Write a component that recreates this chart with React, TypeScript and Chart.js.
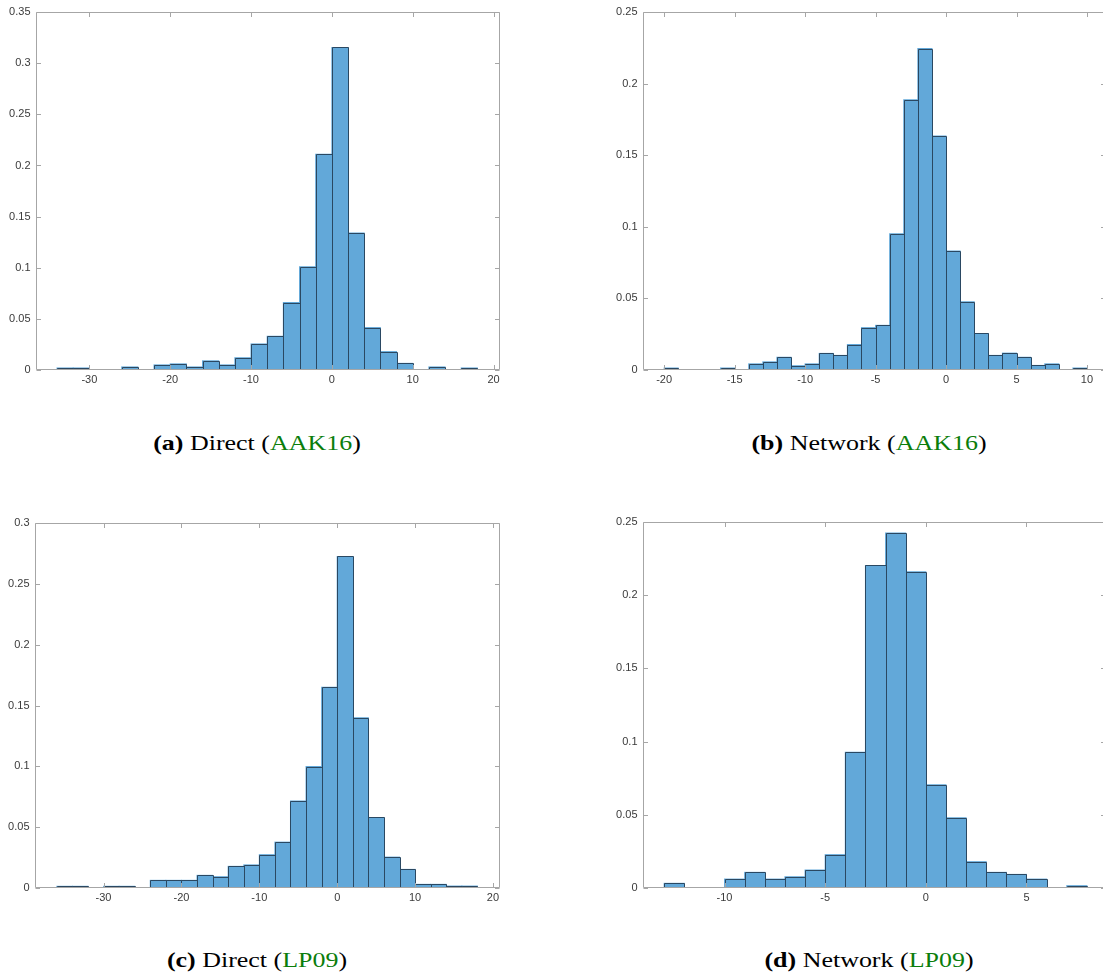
import React, { useEffect, useRef } from "react";
import { Chart, registerables } from "chart.js";

Chart.register(...registerables);

// ---------- Data ----------
// (a) Direct (AAK16)
const aCenters = [-33, -31, -29, -27, -25, -23, -21, -19, -17, -15, -13, -11, -9, -7, -5, -3, -1, 1, 3, 5, 7, 9, 11, 13, 15, 17];
const aValues = [0.002, 0.002, 0, 0, 0.003, 0, 0.005, 0.006, 0.003, 0.009, 0.005, 0.012, 0.0255, 0.033, 0.066, 0.101, 0.211, 0.3155, 0.134, 0.0415, 0.018, 0.0065, 0, 0.003, 0, 0.002];
const aXTicks = [-30, -20, -10, 0, 10, 20];
const aXLabels = ["-30", "-20", "-10", "0", "10", "20"];
const aYTicks = [0, 0.05, 0.1, 0.15, 0.2, 0.25, 0.3, 0.35];
const aYLabels = ["0", "0.05", "0.1", "0.15", "0.2", "0.25", "0.3", "0.35"];

// (b) Network (AAK16)
const bCenters = [-19.5, -18.5, -17.5, -16.5, -15.5, -14.5, -13.5, -12.5, -11.5, -10.5, -9.5, -8.5, -7.5, -6.5, -5.5, -4.5, -3.5, -2.5, -1.5, -0.5, 0.5, 1.5, 2.5, 3.5, 4.5, 5.5, 6.5, 7.5, 8.5, 9.5];
const bValues = [0.0014, 0, 0, 0, 0.0014, 0, 0.0043, 0.0057, 0.0089, 0.003, 0.0043, 0.0116, 0.0102, 0.0178, 0.0296, 0.0312, 0.0952, 0.1888, 0.2245, 0.1635, 0.0831, 0.0476, 0.0255, 0.0102, 0.0118, 0.0089, 0.0032, 0.0043, 0, 0.0014];
const bXTicks = [-20, -15, -10, -5, 0, 5, 10];
const bXLabels = ["-20", "-15", "-10", "-5", "0", "5", "10"];
const bYTicks = [0, 0.05, 0.1, 0.15, 0.2, 0.25];
const bYLabels = ["0", "0.05", "0.1", "0.15", "0.2", "0.25"];

// (c) Direct (LP09)
const cCenters = [-35, -33, -31, -29, -27, -25, -23, -21, -19, -17, -15, -13, -11, -9, -7, -5, -3, -1, 1, 3, 5, 7, 9, 11, 13, 15, 17];
const cValues = [0.0014, 0.0014, 0, 0.0014, 0.0014, 0, 0.0063, 0.0063, 0.0063, 0.0104, 0.0093, 0.0178, 0.019, 0.0274, 0.0377, 0.0716, 0.0998, 0.165, 0.2725, 0.14, 0.058, 0.0254, 0.0153, 0.003, 0.003, 0.0016, 0.0016];
const cXTicks = [-30, -20, -10, 0, 10, 20];
const cXLabels = ["-30", "-20", "-10", "0", "10", "20"];
const cYTicks = [0, 0.05, 0.1, 0.15, 0.2, 0.25, 0.3];
const cYLabels = ["0", "0.05", "0.1", "0.15", "0.2", "0.25", "0.3"];

// (d) Network (LP09)
const dCenters = [-12.5, -11.5, -10.5, -9.5, -8.5, -7.5, -6.5, -5.5, -4.5, -3.5, -2.5, -1.5, -0.5, 0.5, 1.5, 2.5, 3.5, 4.5, 5.5, 6.5, 7.5];
const dValues = [0.0032, 0, 0, 0.0061, 0.0107, 0.0061, 0.0077, 0.0123, 0.0228, 0.0928, 0.2204, 0.2425, 0.216, 0.0705, 0.048, 0.018, 0.0107, 0.0093, 0.0061, 0, 0.0016];
const dXTicks = [-10, -5, 0, 5];
const dXLabels = ["-10", "-5", "0", "5"];
const dYTicks = [0, 0.05, 0.1, 0.15, 0.2, 0.25];
const dYLabels = ["0", "0.05", "0.1", "0.15", "0.2", "0.25"];

// ---------- Styling ----------
const BAR_FILL = "#62a8d9";
const BAR_EDGE = "#2a4862";
const AXIS_COLOR = "#a6a6a6";
const TICK_FONT = { family: '"Liberation Sans", Arial, Helvetica, sans-serif', size: 11 };
const TICK_COLOR = "#3a3a3a";
const TICK_LEN = 4.5;

// Crisp 1px outlines around each histogram bin, using the bar elements' own geometry.
const binEdges = {
  id: "binEdges",
  afterDatasetsDraw(chart: any) {
    const { ctx, chartArea } = chart;
    const meta = chart.getDatasetMeta(0);
    const values = chart.data.datasets[0].data;
    ctx.save();
    ctx.beginPath();
    ctx.rect(chartArea.left, chartArea.top, chartArea.right - chartArea.left, chartArea.bottom - chartArea.top);
    ctx.clip();
    ctx.strokeStyle = BAR_EDGE;
    ctx.lineWidth = 1;
    meta.data.forEach((el: any, i: number) => {
      const v = values[i] && values[i].y;
      if (!v || v <= 0) return;
      const { x, y, base, width } = el.getProps(["x", "y", "base", "width"], true);
      const l = Math.round(x - width / 2) + 0.5;
      const r = Math.round(x + width / 2) + 0.5;
      const t = Math.round(y) + 0.5;
      const b = Math.round(base) + 0.5;
      ctx.beginPath();
      ctx.moveTo(l, b);
      ctx.lineTo(l, t);
      ctx.lineTo(r, t);
      ctx.lineTo(r, b);
      ctx.stroke();
    });
    ctx.restore();
  },
};

const matlabBox = {
  id: "matlabBox",
  afterDatasetsDraw(chart: any) {
    const { ctx, chartArea, scales } = chart;
    const { left, right, top, bottom } = chartArea;
    const x = scales.x;
    const y = scales.y;
    ctx.save();
    ctx.strokeStyle = AXIS_COLOR;
    ctx.lineWidth = 1;
    const L = Math.round(left) + 0.5;
    const R = Math.round(right) - 0.5;
    const T = Math.round(top) + 0.5;
    const B = Math.round(bottom) - 0.5;
    ctx.beginPath();
    ctx.rect(L, T, R - L, B - T);
    ctx.stroke();
    ctx.beginPath();
    x.ticks.forEach((t: any) => {
      const px = Math.round(x.getPixelForValue(t.value)) + 0.5;
      ctx.moveTo(px, B);
      ctx.lineTo(px, B - TICK_LEN);
      ctx.moveTo(px, T);
      ctx.lineTo(px, T + TICK_LEN);
    });
    y.ticks.forEach((t: any) => {
      const py = Math.round(y.getPixelForValue(t.value)) + 0.5;
      ctx.moveTo(L, py);
      ctx.lineTo(L + TICK_LEN, py);
      ctx.moveTo(R, py);
      ctx.lineTo(R - TICK_LEN, py);
    });
    ctx.stroke();
    ctx.restore();
  },
};

type PanelSpec = {
  centers: number[];
  values: number[];
  xTicks: number[];
  xLabels: string[];
  yTicks: number[];
  yLabels: string[];
  xMin: number;
  xMax: number;
  yMax: number;
  padding: { left: number; right: number; top: number; bottom: number };
  yWidth: number;
  xHeight: number;
};

function makeConfig(p: PanelSpec): any {
  return {
    type: "bar",
    data: {
      datasets: [
        {
          data: p.centers.map((c, i) => ({ x: c, y: p.values[i] })),
          backgroundColor: BAR_FILL,
          borderWidth: 0,
          barPercentage: 1,
          categoryPercentage: 1,
          inflateAmount: 0.5,
        },
      ],
    },
    options: {
      animation: false,
      responsive: false,
      maintainAspectRatio: false,
      devicePixelRatio: 1,
      layout: { padding: p.padding },
      plugins: { legend: { display: false }, tooltip: { enabled: false } },
      scales: {
        x: {
          type: "linear",
          min: p.xMin,
          max: p.xMax,
          offset: false,
          grid: { display: false, drawTicks: false },
          border: { display: false },
          afterBuildTicks: (s: any) => {
            s.ticks = p.xTicks.map((v) => ({ value: v }));
          },
          afterFit: (s: any) => {
            s.height = p.xHeight;
          },
          ticks: {
            font: TICK_FONT,
            color: TICK_COLOR,
            padding: 3,
            maxRotation: 0,
            autoSkip: false,
            includeBounds: false,
            callback: (_v: any, i: number) => p.xLabels[i],
          },
        },
        y: {
          type: "linear",
          min: 0,
          max: p.yMax,
          grid: { display: false, drawTicks: false },
          border: { display: false },
          afterBuildTicks: (s: any) => {
            s.ticks = p.yTicks.map((v) => ({ value: v }));
          },
          afterFit: (s: any) => {
            s.width = p.yWidth;
          },
          ticks: {
            font: TICK_FONT,
            color: TICK_COLOR,
            padding: 5.5,
            autoSkip: false,
            includeBounds: false,
            callback: (_v: any, i: number) => p.yLabels[i],
          },
        },
      },
    },
    plugins: [binEdges, matlabBox],
  };
}

function Panel({ spec, left, top, width, height }: { spec: PanelSpec; left: number; top: number; width: number; height: number }) {
  const ref = useRef<HTMLCanvasElement | null>(null);
  useEffect(() => {
    if (!ref.current) return;
    const chart = new Chart(ref.current, makeConfig(spec));
    return () => chart.destroy();
  }, []);
  return (
    <div style={{ position: "absolute", left, top, width, height }}>
      <canvas ref={ref} width={width} height={height} style={{ width, height, display: "block" }} />
    </div>
  );
}

const GREEN = "#0b7d0b";

function Caption({ cx, cy, tag, name, cite }: { cx: number; cy: number; tag: string; name: string; cite: string }) {
  return (
    <div
      style={{
        position: "absolute",
        left: cx - 200,
        top: cy - 13,
        width: 400,
        height: 26,
        lineHeight: "26px",
        textAlign: "center",
        fontFamily: '"Liberation Serif", "Times New Roman", serif',
        fontSize: 22,
        color: "#000",
        whiteSpace: "nowrap",
        transform: "scaleX(1.18)",
        transformOrigin: "center",
      }}
    >
      <b>({tag})</b> {name} (<span style={{ color: GREEN }}>{cite}</span>)
    </div>
  );
}

export default function App() {
  const specA: PanelSpec = {
    centers: aCenters, values: aValues, xTicks: aXTicks, xLabels: aXLabels, yTicks: aYTicks, yLabels: aYLabels,
    xMin: -36.6, xMax: 20.8, yMax: 0.35,
    padding: { left: 0, right: 15, top: 4, bottom: 0 }, yWidth: 36, xHeight: 30,
  };
  const specB: PanelSpec = {
    centers: bCenters, values: bValues, xTicks: bXTicks, xLabels: bXLabels, yTicks: bYTicks, yLabels: bYLabels,
    xMin: -21.5, xMax: 11.35, yMax: 0.25,
    padding: { left: 0, right: 14, top: 4, bottom: 0 }, yWidth: 83, xHeight: 30,
  };
  const specC: PanelSpec = {
    centers: cCenters, values: cValues, xTicks: cXTicks, xLabels: cXLabels, yTicks: cYTicks, yLabels: cYLabels,
    xMin: -38.8, xMax: 20.9, yMax: 0.3,
    padding: { left: 0, right: 15, top: 13, bottom: 0 }, yWidth: 35, xHeight: 22,
  };
  const specD: PanelSpec = {
    centers: dCenters, values: dValues, xTicks: dXTicks, xLabels: dXLabels, yTicks: dYTicks, yLabels: dYLabels,
    xMin: -14.05, xMax: 8.95, yMax: 0.25,
    padding: { left: 0, right: 14, top: 11, bottom: 0 }, yWidth: 83, xHeight: 22,
  };
  return (
    <div style={{ position: "fixed", left: 0, top: 0, width: 1103, height: 977, overflow: "hidden", background: "#fff" }}>
      <Panel spec={specA} left={0} top={0} width={515} height={400} />
      <Panel spec={specB} left={560} top={0} width={560} height={400} />
      <Panel spec={specC} left={0} top={510} width={515} height={400} />
      <Panel spec={specD} left={560} top={510} width={560} height={400} />
      <Caption cx={257} cy={443} tag="a" name="Direct" cite="AAK16" />
      <Caption cx={869} cy={443} tag="b" name="Network" cite="AAK16" />
      <Caption cx={257} cy={960} tag="c" name="Direct" cite="LP09" />
      <Caption cx={869} cy={960} tag="d" name="Network" cite="LP09" />
    </div>
  );
}
